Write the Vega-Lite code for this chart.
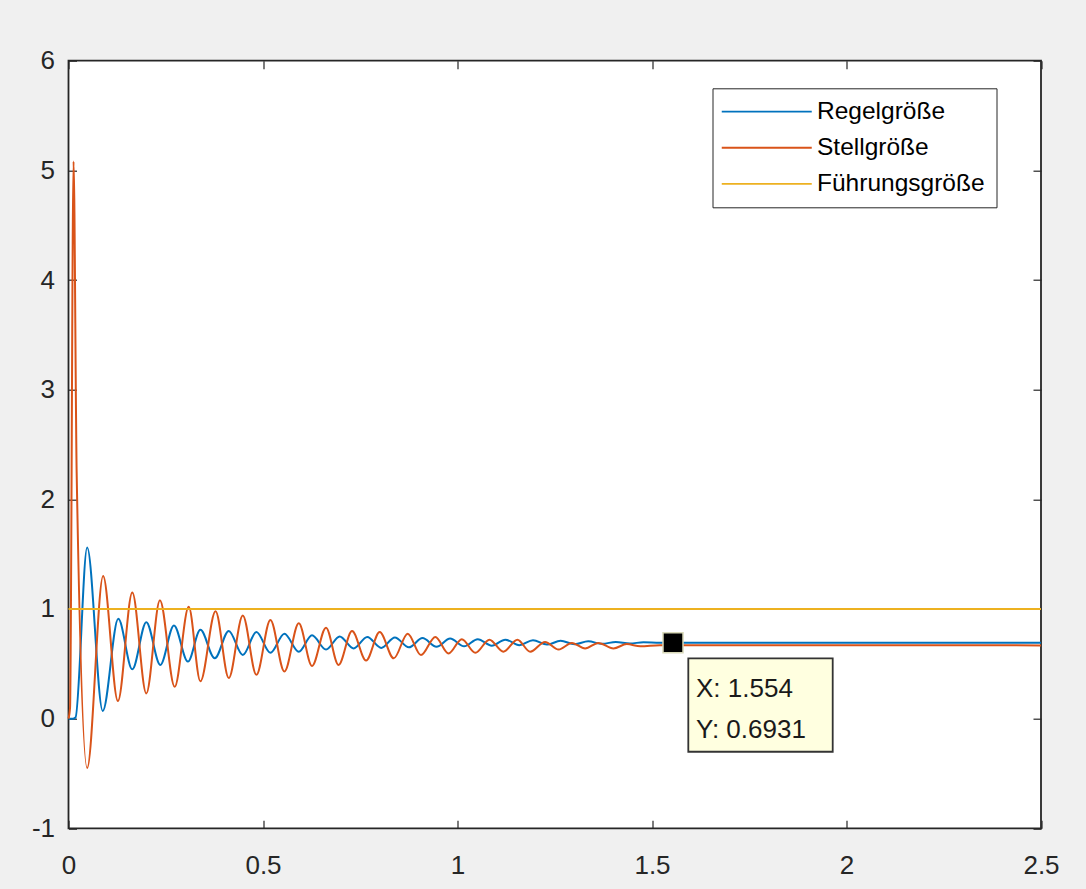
{
  "$schema": "https://vega.github.io/schema/vega-lite/v6.json",
  "autosize": {"type": "none"},
  "width": 972.5,
  "height": 767.6,
  "padding": {"left": 68.5, "top": 60.7, "right": 45, "bottom": 60.7},
  "background": "#f0f0f0",
  "config": {
    "view": {"fill": "white", "stroke": "#262626", "strokeWidth": 1.8},
    "font": "Liberation Sans",
    "axis": {"domain": false, "grid": false, "tickColor": "#262626", "tickSize": -8, "tickWidth": 1.2, "labelFont": "Liberation Sans", "labelFontSize": 26, "labelColor": "#262626", "title": null, "labelFlush": false, "labelOverlap": false}
  },
  "datasets": {
    "signals": [
      {"series": "Regelgröße", "t": 0, "v": 0},
      {"series": "Regelgröße", "t": 0.012, "v": 0},
      {"series": "Regelgröße", "t": 0.018, "v": 0.01},
      {"series": "Regelgröße", "t": 0.048, "v": 1.56},
      {"series": "Regelgröße", "t": 0.088, "v": 0.07},
      {"series": "Regelgröße", "t": 0.128, "v": 0.91},
      {"series": "Regelgröße", "t": 0.164, "v": 0.45},
      {"series": "Regelgröße", "t": 0.2, "v": 0.88},
      {"series": "Regelgröße", "t": 0.236, "v": 0.49},
      {"series": "Regelgröße", "t": 0.271, "v": 0.85},
      {"series": "Regelgröße", "t": 0.307, "v": 0.52},
      {"series": "Regelgröße", "t": 0.339, "v": 0.81},
      {"series": "Regelgröße", "t": 0.376, "v": 0.55},
      {"series": "Regelgröße", "t": 0.412, "v": 0.8},
      {"series": "Regelgröße", "t": 0.448, "v": 0.58},
      {"series": "Regelgröße", "t": 0.483, "v": 0.79},
      {"series": "Regelgröße", "t": 0.519, "v": 0.6},
      {"series": "Regelgröße", "t": 0.555, "v": 0.775},
      {"series": "Regelgröße", "t": 0.592, "v": 0.61},
      {"series": "Regelgröße", "t": 0.626, "v": 0.76},
      {"series": "Regelgröße", "t": 0.662, "v": 0.63},
      {"series": "Regelgröße", "t": 0.697, "v": 0.75},
      {"series": "Regelgröße", "t": 0.733, "v": 0.64},
      {"series": "Regelgröße", "t": 0.768, "v": 0.745},
      {"series": "Regelgröße", "t": 0.804, "v": 0.645},
      {"series": "Regelgröße", "t": 0.839, "v": 0.74},
      {"series": "Regelgröße", "t": 0.875, "v": 0.65},
      {"series": "Regelgröße", "t": 0.91, "v": 0.735},
      {"series": "Regelgröße", "t": 0.946, "v": 0.655},
      {"series": "Regelgröße", "t": 0.981, "v": 0.73},
      {"series": "Regelgröße", "t": 1.017, "v": 0.66},
      {"series": "Regelgröße", "t": 1.052, "v": 0.725},
      {"series": "Regelgröße", "t": 1.088, "v": 0.665},
      {"series": "Regelgröße", "t": 1.123, "v": 0.72},
      {"series": "Regelgröße", "t": 1.159, "v": 0.67},
      {"series": "Regelgröße", "t": 1.194, "v": 0.715},
      {"series": "Regelgröße", "t": 1.23, "v": 0.675},
      {"series": "Regelgröße", "t": 1.265, "v": 0.71},
      {"series": "Regelgröße", "t": 1.301, "v": 0.678},
      {"series": "Regelgröße", "t": 1.336, "v": 0.705},
      {"series": "Regelgröße", "t": 1.372, "v": 0.682},
      {"series": "Regelgröße", "t": 1.407, "v": 0.7},
      {"series": "Regelgröße", "t": 1.443, "v": 0.686},
      {"series": "Regelgröße", "t": 1.478, "v": 0.696},
      {"series": "Regelgröße", "t": 1.52, "v": 0.692},
      {"series": "Regelgröße", "t": 2.5, "v": 0.6931},
      {"series": "Stellgröße", "t": 0, "v": 0},
      {"series": "Stellgröße", "t": 0.004, "v": 0.1},
      {"series": "Stellgröße", "t": 0.013, "v": 5.08},
      {"series": "Stellgröße", "t": 0.021, "v": 2.24},
      {"series": "Stellgröße", "t": 0.048, "v": -0.45},
      {"series": "Stellgröße", "t": 0.089, "v": 1.3},
      {"series": "Stellgröße", "t": 0.127, "v": 0.16},
      {"series": "Stellgröße", "t": 0.164, "v": 1.15},
      {"series": "Stellgröße", "t": 0.2, "v": 0.23},
      {"series": "Stellgröße", "t": 0.235, "v": 1.08},
      {"series": "Stellgröße", "t": 0.273, "v": 0.29},
      {"series": "Stellgröße", "t": 0.309, "v": 1.02},
      {"series": "Stellgröße", "t": 0.339, "v": 0.34},
      {"series": "Stellgröße", "t": 0.378, "v": 0.98},
      {"series": "Stellgröße", "t": 0.412, "v": 0.37},
      {"series": "Stellgröße", "t": 0.448, "v": 0.94},
      {"series": "Stellgröße", "t": 0.483, "v": 0.4},
      {"series": "Stellgröße", "t": 0.519, "v": 0.9},
      {"series": "Stellgröße", "t": 0.555, "v": 0.43},
      {"series": "Stellgröße", "t": 0.592, "v": 0.87},
      {"series": "Stellgröße", "t": 0.626, "v": 0.48},
      {"series": "Stellgröße", "t": 0.662, "v": 0.83},
      {"series": "Stellgröße", "t": 0.694, "v": 0.49},
      {"series": "Stellgröße", "t": 0.729, "v": 0.8},
      {"series": "Stellgröße", "t": 0.765, "v": 0.53},
      {"series": "Stellgröße", "t": 0.8, "v": 0.79},
      {"series": "Stellgröße", "t": 0.836, "v": 0.55},
      {"series": "Stellgröße", "t": 0.872, "v": 0.775},
      {"series": "Stellgröße", "t": 0.906, "v": 0.58},
      {"series": "Stellgröße", "t": 0.943, "v": 0.745},
      {"series": "Stellgröße", "t": 0.977, "v": 0.595},
      {"series": "Stellgröße", "t": 1.011, "v": 0.725},
      {"series": "Stellgröße", "t": 1.046, "v": 0.6},
      {"series": "Stellgröße", "t": 1.082, "v": 0.72},
      {"series": "Stellgröße", "t": 1.118, "v": 0.61},
      {"series": "Stellgröße", "t": 1.154, "v": 0.72},
      {"series": "Stellgröße", "t": 1.187, "v": 0.61},
      {"series": "Stellgröße", "t": 1.225, "v": 0.7},
      {"series": "Stellgröße", "t": 1.26, "v": 0.63},
      {"series": "Stellgröße", "t": 1.294, "v": 0.69},
      {"series": "Stellgröße", "t": 1.328, "v": 0.64},
      {"series": "Stellgröße", "t": 1.362, "v": 0.69},
      {"series": "Stellgröße", "t": 1.401, "v": 0.64},
      {"series": "Stellgröße", "t": 1.435, "v": 0.68},
      {"series": "Stellgröße", "t": 1.47, "v": 0.66},
      {"series": "Stellgröße", "t": 1.52, "v": 0.67},
      {"series": "Stellgröße", "t": 2.5, "v": 0.668},
      {"series": "Führungsgröße", "t": 0, "v": 1},
      {"series": "Führungsgröße", "t": 2.5, "v": 1}
    ],
    "tip": [{"x": 1.554, "y": 0.6931, "l1": "X: 1.554", "l2": "Y: 0.6931"}]
  },
  "layer": [
    {
      "data": {"name": "signals"},
      "transform": [{"filter": "datum.series === 'Regelgröße'"}],
      "mark": {"type": "line", "interpolate": "monotone", "strokeWidth": 2},
      "encoding": {
        "x": {"field": "t", "type": "quantitative", "scale": {"domain": [0, 2.5], "nice": false, "zero": false}, "axis": {"orient": "bottom", "values": [0, 0.5, 1, 1.5, 2, 2.5], "labelPadding": 32, "labelExpr": "'' + datum.value"}},
        "y": {"field": "v", "type": "quantitative", "scale": {"domain": [-1, 6], "nice": false, "zero": false}, "axis": {"orient": "left", "values": [-1, 0, 1, 2, 3, 4, 5, 6], "labelPadding": 22, "labelExpr": "'' + datum.value"}},
        "color": {
          "field": "series", "type": "nominal",
          "scale": {"domain": ["Regelgröße", "Stellgröße", "Führungsgröße"], "range": ["#0072BD", "#D95319", "#EDB120"]},
          "legend": {"orient": "none", "legendX": 644, "legendY": 27.6, "title": null, "symbolType": "M-1.4,0H7.6", "symbolSize": 400, "symbolStrokeWidth": 1.8, "labelOffset": 69, "labelFontSize": 24.5, "labelLimit": 500, "labelExpr": "datum.label + '\u00a0\u00a0'", "labelFont": "Liberation Sans", "labelColor": "#000000", "fillColor": "white", "strokeColor": "#262626", "padding": 11, "rowPadding": 11.2, "direction": "vertical"}
        }
      }
    },
    {
      "data": {"name": "signals"},
      "transform": [{"filter": "datum.series === 'Stellgröße'"}],
      "mark": {"type": "line", "interpolate": "monotone", "strokeWidth": 2},
      "encoding": {
        "x": {"field": "t", "type": "quantitative", "axis": null},
        "y": {"field": "v", "type": "quantitative", "axis": null},
        "color": {"field": "series", "type": "nominal"}
      }
    },
    {
      "data": {"name": "signals"},
      "transform": [{"filter": "datum.series === 'Führungsgröße'"}],
      "mark": {"type": "line", "strokeWidth": 2},
      "encoding": {
        "x": {"field": "t", "type": "quantitative", "axis": null},
        "y": {"field": "v", "type": "quantitative", "axis": null},
        "color": {"field": "series", "type": "nominal"}
      }
    },
    {
      "data": {"name": "tip"},
      "mark": {"type": "rect", "fill": "#ffffe0", "stroke": "#333333", "strokeWidth": 1.8, "xOffset": 15.3, "x2Offset": 159.7, "yOffset": 15.7, "y2Offset": 109.1},
      "encoding": {
        "x": {"field": "x", "type": "quantitative", "axis": null},
        "x2": {"field": "x"},
        "y": {"field": "y", "type": "quantitative", "axis": null},
        "y2": {"field": "y"}
      }
    },
    {
      "data": {"name": "tip"},
      "mark": {"type": "text", "align": "left", "baseline": "alphabetic", "dx": 23, "dy": 54.7, "fontSize": 26, "font": "Liberation Sans", "color": "#1a1a1a"},
      "encoding": {
        "x": {"field": "x", "type": "quantitative", "axis": null},
        "y": {"field": "y", "type": "quantitative", "axis": null},
        "text": {"field": "l1"}
      }
    },
    {
      "data": {"name": "tip"},
      "mark": {"type": "text", "align": "left", "baseline": "alphabetic", "dx": 23, "dy": 95.7, "fontSize": 26, "font": "Liberation Sans", "color": "#1a1a1a"},
      "encoding": {
        "x": {"field": "x", "type": "quantitative", "axis": null},
        "y": {"field": "y", "type": "quantitative", "axis": null},
        "text": {"field": "l2"}
      }
    },
    {
      "data": {"name": "tip"},
      "mark": {"type": "point", "shape": "square", "filled": true, "fill": "#000000", "stroke": "#d8d8b8", "strokeWidth": 1.5, "size": 400, "opacity": 1},
      "encoding": {
        "x": {"field": "x", "type": "quantitative", "axis": {"orient": "top", "values": [0, 0.5, 1, 1.5, 2, 2.5], "labels": false}},
        "y": {"field": "y", "type": "quantitative", "axis": {"orient": "right", "values": [-1, 0, 1, 2, 3, 4, 5, 6], "labels": false}}
      }
    }
  ],
  "resolve": {"axis": {"x": "independent", "y": "independent"}}
}
